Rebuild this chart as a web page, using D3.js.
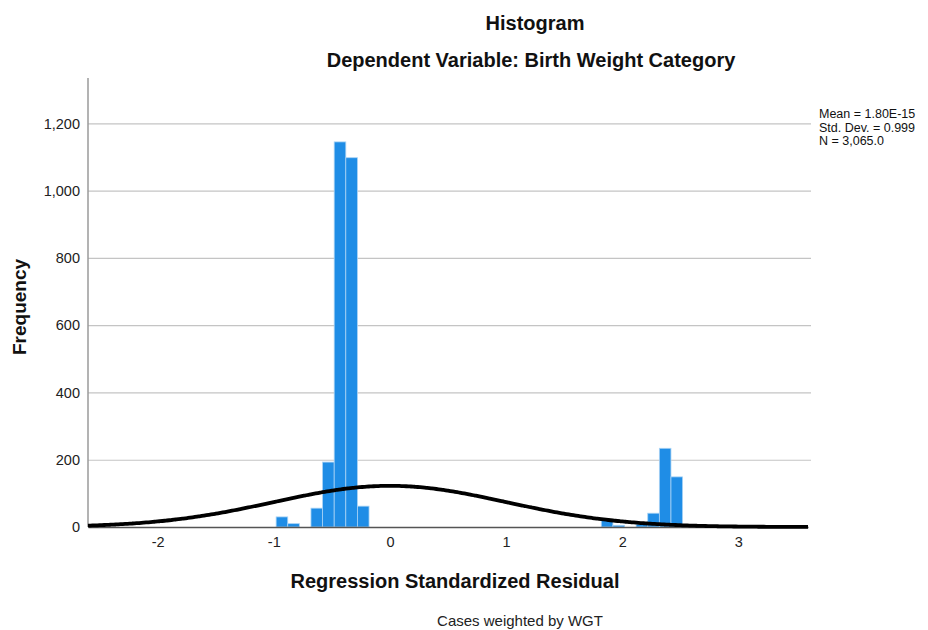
<!DOCTYPE html>
<html>
<head>
<meta charset="utf-8">
<script src="https://cdn.jsdelivr.net/npm/d3@7"></script>
<style>
  body { margin: 0; background: #fff; }
  svg { display: block; font-family: Arial, 'Liberation Sans', sans-serif; }
</style>
</head>
<body>
<svg id="chart"></svg>
<script>
// histogram bins (left edge of each bin) and frequencies
const binStart = [-0.98, -0.88, -0.68, -0.58, -0.48, -0.38, -0.28, 1.82, 1.92, 2.12, 2.22, 2.32, 2.42];
const binCount = [30, 10, 56, 193, 1145, 1098, 62, 20, 5, 8, 41, 234, 149];
const binWidth = 0.1;

const xTicks = [-2, -1, 0, 1, 2, 3];
const yTicks = [0, 200, 400, 600, 800, 1000, 1200];

// normal curve parameters shown in the legend
const mean = 1.80e-15;
const stdDev = 0.999;
const nCases = 3065;
const statLines = ['Mean = 1.80E-15', 'Std. Dev. = 0.999', 'N = 3,065.0'];

const width = 928, height = 630;
const margin = { top: 78, right: 120, bottom: 103, left: 88 };

const svg = d3.select('#chart')
  .attr('width', width)
  .attr('height', height);

const chartWidth = width - margin.left - margin.right;
const chartHeight = height - margin.top - margin.bottom;

const x = d3.scaleLinear()
  .domain([-2.6, 3.6])
  .range([0, chartWidth]);

const y = d3.scaleLinear()
  .domain([0, 1335])
  .range([chartHeight, 0]);

const g = svg.append('g')
  .attr('transform', `translate(${margin.left},${margin.top})`);

// Gridlines + y labels
const yAxis = g.append('g')
  .call(d3.axisLeft(y).tickValues(yTicks).tickSize(0).tickPadding(8).tickFormat(d3.format(',')));
yAxis.select('.domain').remove();
yAxis.selectAll('text')
  .style('font-size', '14.5px')
  .attr('fill', '#222');
yAxis.selectAll('.tick')
  .filter(d => d > 0)
  .append('line')
  .attr('x2', chartWidth + 3)
  .attr('stroke', '#c4c4c4')
  .attr('stroke-width', 1.2);

// Y axis line
g.append('line')
  .attr('x1', 0).attr('x2', 0)
  .attr('y1', 0).attr('y2', chartHeight)
  .attr('stroke', '#9a9a9a')
  .attr('stroke-width', 1.5);

// Bars
const bins = binStart.map((s, i) => ({ x0: s, x1: s + binWidth, n: binCount[i] }));
g.selectAll('.bar')
  .data(bins)
  .enter().append('rect')
  .attr('class', 'bar')
  .attr('x', d => x(d.x0))
  .attr('y', d => y(d.n))
  .attr('width', d => x(d.x1) - x(d.x0))
  .attr('height', d => chartHeight - y(d.n))
  .attr('fill', '#1f8de6')
  .attr('stroke', '#a9d3f5')
  .attr('stroke-width', 0.8);

// X axis
const xAxis = g.append('g')
  .attr('transform', `translate(0,${chartHeight})`)
  .call(d3.axisBottom(x).tickValues(xTicks).tickSize(0).tickPadding(10).tickFormat(d => String(d)));
xAxis.select('.domain')
  .attr('stroke', '#555')
  .attr('stroke-width', 1.5);
xAxis.selectAll('text')
  .style('font-size', '14.5px')
  .attr('fill', '#222');

// Normal curve
const pdf = v => nCases * binWidth / (stdDev * Math.sqrt(2 * Math.PI)) *
  Math.exp(-0.5 * Math.pow((v - mean) / stdDev, 2));
const curvePts = d3.range(-2.6, 3.6001, 0.02);
g.append('path')
  .datum(curvePts)
  .attr('fill', 'none')
  .attr('stroke', '#000')
  .attr('stroke-width', 3.8)
  .attr('d', d3.line().x(d => x(d)).y(d => y(pdf(d))).curve(d3.curveBasis));

// Titles
svg.append('text')
  .attr('x', 535).attr('y', 30)
  .attr('text-anchor', 'middle')
  .style('font-size', '20px').style('font-weight', 'bold')
  .attr('fill', '#111')
  .text('Histogram');

svg.append('text')
  .attr('x', 531).attr('y', 67)
  .attr('text-anchor', 'middle')
  .style('font-size', '20px').style('font-weight', 'bold')
  .attr('fill', '#111')
  .text('Dependent Variable: Birth Weight Category');

// Axis titles
svg.append('text')
  .attr('x', 455).attr('y', 588)
  .attr('text-anchor', 'middle')
  .style('font-size', '20px').style('font-weight', 'bold')
  .attr('fill', '#111')
  .text('Regression Standardized Residual');

svg.append('text')
  .attr('transform', 'translate(26,307) rotate(-90)')
  .attr('text-anchor', 'middle')
  .style('font-size', '19px').style('font-weight', 'bold')
  .attr('fill', '#111')
  .text('Frequency');

svg.append('text')
  .attr('x', 520).attr('y', 626)
  .attr('text-anchor', 'middle')
  .style('font-size', '15px')
  .attr('fill', '#222')
  .text('Cases weighted by WGT');

// Stats block
svg.append('g')
  .selectAll('text')
  .data(statLines)
  .enter().append('text')
  .attr('x', 819)
  .attr('y', (d, i) => 118 + i * 13.5)
  .style('font-size', '12.5px')
  .attr('fill', '#111')
  .text(d => d);
</script>
</body>
</html>
